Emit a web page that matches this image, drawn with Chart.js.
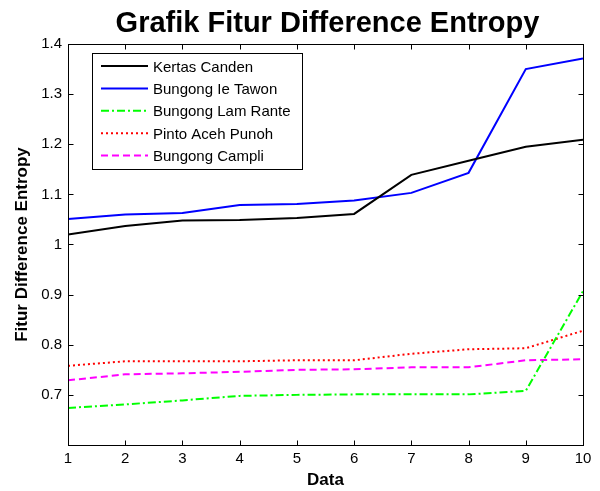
<!DOCTYPE html>
<html><head><meta charset="utf-8">
<script src="https://cdn.jsdelivr.net/npm/chart.js@4/dist/chart.umd.min.js"></script>
<style>html,body{margin:0;padding:0;background:#fff}#wrap{width:600px;height:491px}</style>
</head><body><div id="wrap"><canvas id="c" width="600" height="491"></canvas></div>
<script>
const chartTitle = "Grafik Fitur Difference Entropy";
const categories = [1,2,3,4,5,6,7,8,9,10];
const yTicks = [0.7,0.8,0.9,1.0,1.1,1.2,1.3,1.4];
const seriesNames = ["Kertas Canden","Bungong Ie Tawon","Bungong Lam Rante","Pinto Aceh Punoh","Bungong Campli"];
const kertasCanden = [1.020,1.037,1.048,1.049,1.053,1.061,1.139,1.167,1.195,1.209];
const bungongIeTawon = [1.051,1.060,1.063,1.079,1.081,1.088,1.103,1.143,1.350,1.371];
const bungongLamRante = [0.674,0.681,0.689,0.698,0.700,0.701,0.701,0.701,0.708,0.907];
const pintoAcehPunoh = [0.758,0.767,0.767,0.767,0.769,0.769,0.782,0.791,0.793,0.828];
const bungongCampli = [0.729,0.741,0.743,0.746,0.750,0.751,0.755,0.755,0.769,0.771];

const seriesValues = [kertasCanden,bungongIeTawon,bungongLamRante,pintoAcehPunoh,bungongCampli];
const colors = ['#000000','#0000ff','#00ff00','#ff0000','#ff00ff'];
const dashes = [[],[],[8,3,2,3],[2,3],[7,4]];
const FONT = 'Arial, "Liberation Sans", sans-serif';

const datasets = seriesValues.map((vals,k)=>({
  label: seriesNames[k],
  data: vals.map((v,i)=>({x:categories[i], y:v})),
  borderColor: colors[k], backgroundColor: colors[k],
  borderWidth: 2, borderDash: dashes[k], pointRadius: 0, tension: 0, fill:false
}));

const boxPlugin = {
  id:'boxPlugin',
  afterDraw(chart){
    const ctx = chart.ctx, a = chart.chartArea, xs = chart.scales.x, ys = chart.scales.y;
    ctx.save();
    ctx.strokeStyle='#000'; ctx.lineWidth=1; ctx.setLineDash([]);
    const L=Math.round(a.left)+0.5, R=Math.round(a.right)+0.5, T=Math.round(a.top)+0.5, B=Math.round(a.bottom)+0.5;
    ctx.strokeRect(L,T,R-L,B-T);
    const tl=5;
    ctx.beginPath();
    categories.forEach(c=>{const x=Math.round(xs.getPixelForValue(c))+0.5;ctx.moveTo(x,B);ctx.lineTo(x,B-tl);ctx.moveTo(x,T);ctx.lineTo(x,T+tl);});
    [0.6].concat(yTicks).forEach(v=>{const y=Math.round(ys.getPixelForValue(v))+0.5;ctx.moveTo(L,y);ctx.lineTo(L+tl,y);ctx.moveTo(R,y);ctx.lineTo(R-tl,y);});
    ctx.stroke();
    // title
    ctx.fillStyle='#000'; ctx.font='bold 29px '+FONT; ctx.textAlign='center'; ctx.textBaseline='alphabetic';
    ctx.fillText(chartTitle,(a.left+a.right)/2+2,32);
    // legend
    const lx=92.5, ly=53.5, lw=210, lh=116;
    ctx.fillStyle='#fff'; ctx.fillRect(lx,ly,lw,lh);
    ctx.strokeRect(lx,ly,lw,lh);
    ctx.font='15px '+FONT; ctx.textBaseline='middle'; ctx.textAlign='left';
    chart.data.datasets.forEach((ds,k)=>{
      const y=66+k*22.4;
      ctx.strokeStyle=ds.borderColor; ctx.lineWidth=2; ctx.setLineDash(ds.borderDash);
      ctx.beginPath(); ctx.moveTo(101,y); ctx.lineTo(148,y); ctx.stroke();
      ctx.fillStyle='#000'; ctx.fillText(ds.label,153,y+1.5);
    });
    ctx.restore();
  }
};

new Chart(document.getElementById('c'),{
  type:'line',
  data:{datasets},
  plugins:[boxPlugin],
  options:{
    responsive:false, animation:false, devicePixelRatio:1,
    layout:{padding:{left:0,right:17,top:44,bottom:0}},
    plugins:{ legend:{display:false}, tooltip:{enabled:false}, title:{display:false} },
    scales:{
      x:{type:'linear',min:1,max:10,
        afterBuildTicks(s){s.ticks=categories.map(v=>({value:v}));},
        afterFit(s){s.height=46;},
        grid:{display:false,drawTicks:false}, border:{display:false},
        ticks:{color:'#000',font:{family:FONT,size:15},padding:5,maxRotation:0,callback:v=>String(v)},
        title:{display:true,text:'Data',color:'#000',font:{family:FONT,size:17,weight:'bold',lineHeight:1.2},padding:{top:0,bottom:0}}
      },
      y:{type:'linear',min:0.6,max:1.4,
        afterBuildTicks(s){s.ticks=yTicks.map(v=>({value:v}));},
        afterFit(s){s.width=68;},
        grid:{display:false,drawTicks:false}, border:{display:false},
        ticks:{color:'#000',font:{family:FONT,size:15},padding:6,callback:v=>String(Math.round(v*10)/10)},
        title:{display:true,text:'Fitur Difference Entropy',color:'#000',font:{family:FONT,size:17,weight:'bold',lineHeight:1.2},padding:{top:12,bottom:0}}
      }
    }
  }
});
</script></body></html>
